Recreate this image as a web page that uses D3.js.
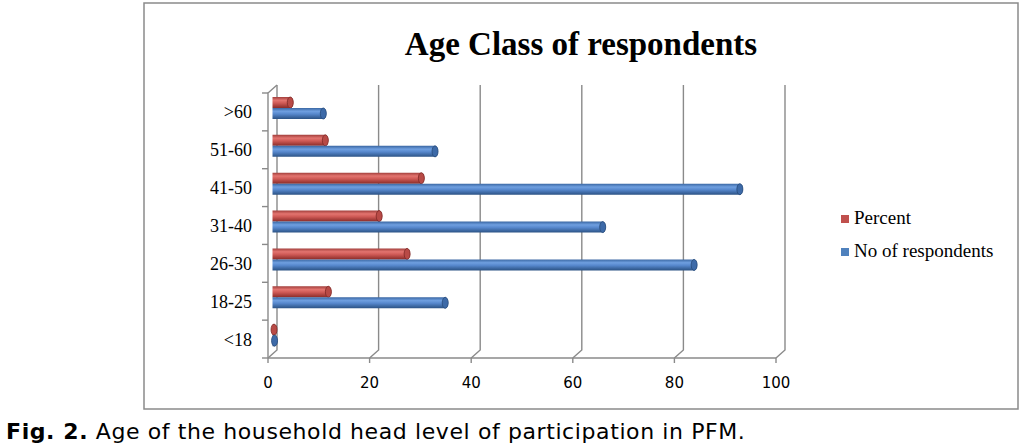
<!DOCTYPE html>
<html lang="en">
<head>
<meta charset="UTF-8">
<title>Age Class of respondents</title>
<script src="https://d3js.org/d3.v7.min.js"></script>
<style>
  body { margin: 0; background: #fff; }
  svg { display: block; }
  .grid { stroke: #8a8a8a; stroke-width: 1.4px; fill: none; }
  .cat { font-family: "Liberation Serif", serif; font-size: 18px; fill: #000; }
  .tick { font-family: "DejaVu Sans", sans-serif; font-size: 15px; fill: #000; }
  .legend { font-family: "Liberation Serif", serif; font-size: 19px; fill: #000; }
</style>
</head>
<body>
<svg width="1028" height="448"></svg>
<script>
  // data, top to bottom as shown
  const categories = [">60", "51-60", "41-50", "31-40", "26-30", "18-25", "<18"];
  const percent = [3.5, 10.4, 29.3, 21, 26.5, 11, 0.3];
  const respondents = [10, 32, 92, 65, 83, 34, 0.4];
  const xTicks = [0, 20, 40, 60, 80, 100];
  const seriesNames = ["Percent", "No of respondents"];

  const svg = d3.select("svg");

  // gradients for the cylinders
  const defs = svg.append("defs");
  const grads = {
    red: ["#a23f3c", "#e3746f", "#cf5a56", "#8a2c29"],
    blue: ["#3a67a3", "#6f9fe0", "#5687cc", "#2b5284"]
  };
  Object.entries(grads).forEach(([k, c]) => {
    const g = defs.append("linearGradient").attr("id", "g-" + k)
      .attr("x1", 0).attr("y1", 0).attr("x2", 0).attr("y2", 1);
    [0, 0.3, 0.55, 1].forEach((o, i) => g.append("stop").attr("offset", o).attr("stop-color", c[i]));
  });

  // outer frame
  svg.append("rect").attr("x", 144).attr("y", 3).attr("width", 874).attr("height", 406)
    .attr("fill", "none").attr("stroke", "#8a8a8a").attr("stroke-width", 1.5);

  svg.append("text").attr("x", 581).attr("y", 55).attr("text-anchor", "middle")
    .style("font-family", "Liberation Serif, serif").style("font-weight", "bold").style("font-size", "33px")
    .text("Age Class of respondents");

  const x = d3.scaleLinear().domain([0, 100]).range([268, 776]);
  const y = d3.scaleBand().domain(categories).range([93, 358]);
  const dx = 9, dy = -8;   // depth of the 3d box
  const y0 = y.range()[0], y1 = y.range()[1];

  // back wall gridlines + floor diagonals
  const grid = svg.append("g");
  xTicks.forEach(v => {
    grid.append("path").attr("class", "grid")
      .attr("d", `M${x(v)},${y1} L${x(v) + dx},${y1 + dy} V${y0 + dy}`);
    grid.append("line").attr("class", "grid")
      .attr("x1", x(v)).attr("x2", x(v)).attr("y1", y1).attr("y2", y1 + 5);
  });
  // left wall
  grid.append("path").attr("class", "grid")
    .attr("d", `M${x(0)},${y1} V${y0} L${x(0) + dx},${y0 + dy}`);
  grid.append("line").attr("class", "grid")
    .attr("x1", x(0)).attr("x2", x(100)).attr("y1", y1).attr("y2", y1);
  categories.concat([null]).forEach(c => {
    const yy = c === null ? y1 : y(c);
    grid.append("line").attr("class", "grid")
      .attr("x1", x(0) - 6).attr("x2", x(0)).attr("y1", yy).attr("y2", yy);
  });

  // tick labels
  svg.append("g").selectAll("text").data(xTicks).join("text")
    .attr("class", "tick").attr("x", d => x(d)).attr("y", 388).attr("text-anchor", "middle")
    .text(d => d);

  svg.append("g").selectAll("text").data(categories).join("text")
    .attr("class", "cat").attr("x", 252).attr("y", d => y(d) + y.bandwidth() / 2 + 6.5)
    .attr("text-anchor", "end").text(d => d);

  // cylinders
  const barH = 11;
  function cylinder(g, v, top, key) {
    const xs = x(0) + dx / 2, xe = x(v) + dx / 2, rx = 3, ry = barH / 2;
    g.append("path")
      .attr("d", `M${xs},${top} H${xe} A${rx},${ry} 0 0 1 ${xe},${top + barH} H${xs} Z`)
      .attr("fill", `url(#g-${key})`);
    g.append("ellipse").attr("cx", xe).attr("cy", top + ry).attr("rx", rx).attr("ry", ry)
      .attr("fill", key === "red" ? "#b84a46" : "#3d6aa8")
      .attr("stroke", key === "red" ? "#7e2826" : "#274a78").attr("stroke-width", 0.8);
  }
  const bars = svg.append("g");
  categories.forEach((c, i) => {
    const top = y(c) + 4;
    cylinder(bars, percent[i], top, "red");
    cylinder(bars, respondents[i], top + barH, "blue");
  });

  // legend
  const leg = svg.append("g");
  [["#c0504d", 215, seriesNames[0]], ["#4f81bd", 248, seriesNames[1]]].forEach(([col, ly, name]) => {
    leg.append("rect").attr("x", 841).attr("y", ly).attr("width", 8).attr("height", 8).attr("fill", col);
    leg.append("text").attr("class", "legend").attr("x", 854).attr("y", ly + 9).text(name);
  });

  // caption
  const cap = svg.append("text").attr("x", 6).attr("y", 439)
    .style("font-family", "DejaVu Sans, sans-serif").style("font-size", "22px")
    .style("letter-spacing", "0.6px");
  cap.append("tspan").style("font-weight", "bold").text("Fig. 2.");
  cap.append("tspan").text(" Age of the household head level of participation in PFM.");
</script>
</body>
</html>
